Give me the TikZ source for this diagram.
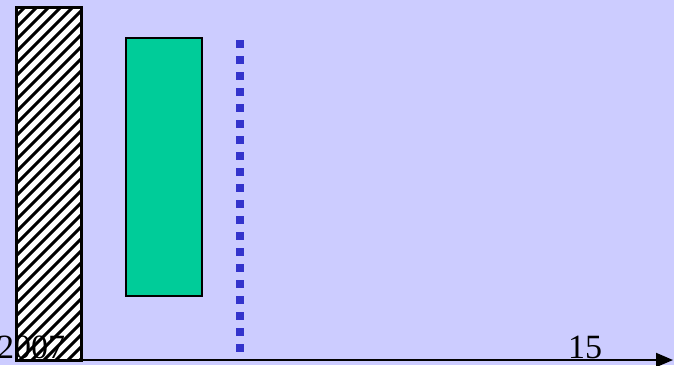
\documentclass[tikz,border=0pt]{standalone}
\usepackage{fontspec}
\setmainfont{Liberation Serif}
\usetikzlibrary{arrows.meta}
\definecolor{bg}{HTML}{CCCCFF}
\definecolor{grn}{HTML}{00CC99}
\definecolor{dotblue}{HTML}{3333CC}
\tikzset{
  bar/.style={draw=black, line width=2.2pt, inner sep=0pt, anchor=north west},
  lbl/.style={anchor=base west, inner sep=0pt, font=\fontsize{34}{34}\selectfont},
}
\begin{document}
\begin{tikzpicture}[x=1pt,y=-1pt]
\fill[bg] (0,0) rectangle (674,365);
\useasboundingbox (0,0) rectangle (674,365);
% hatched bar
\node[bar, fill=white, minimum width=64pt, minimum height=352pt] (hatch) at (16,7) {};
\begin{scope}
  \clip (hatch.south west) rectangle (hatch.north east);
  \foreach \x in {-340,-328,...,90} {
    \draw[line width=3pt] (\x,360) -- (\x+353,7);
  }
\end{scope}
\draw[line width=2.2pt] (hatch.south west) rectangle (hatch.north east);
% green bar
\node[bar, fill=grn, minimum width=76pt, minimum height=258pt] (green) at (125,37) {};
% dotted line
\coordinate (d1) at (240,40);
\coordinate (d2) at (240,352);
\draw[dotblue, line width=8pt, dash pattern=on 8pt off 8pt] (d1) -- (d2);
% axis
\coordinate (a1) at (15,360);
\coordinate (a2) at (673,360);
\draw[line width=2pt, -{Triangle[length=17pt,width=14pt]}] (a1) -- (a2);
% labels
\node[lbl] (y1) at (-3,358) {2007};
\node[lbl] (y2) at (568,358) {15};
\end{tikzpicture}
\end{document}
